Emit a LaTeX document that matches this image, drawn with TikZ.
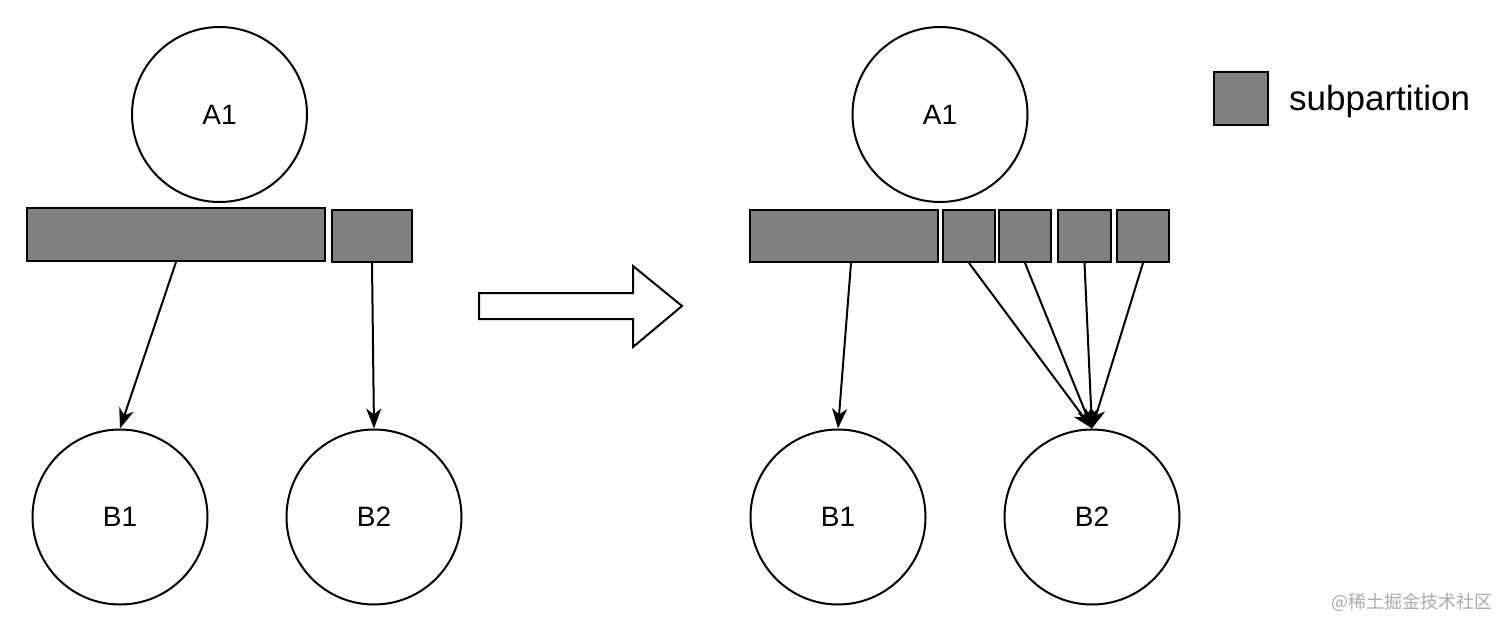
\documentclass[tikz,border=0pt]{standalone}
\usepackage{fontspec}
\setmainfont{Liberation Sans}
\newfontfamily\cjkfont{Noto Sans CJK SC}
\usetikzlibrary{arrows.meta}
\definecolor{partgray}{HTML}{808080}
\definecolor{wmgray}{HTML}{AAAAAA}
\tikzset{
  ball/.style={circle,draw,line width=2pt,minimum size=175pt,inner sep=0pt,font=\fontsize{28}{30}\selectfont},
  part/.style={rectangle,draw,line width=2pt,fill=partgray,inner sep=0pt},
  link/.style={line width=2pt,-{Stealth[length=20pt,width=15pt,inset=6pt]}},
  bigarrow/.style={draw,line width=2pt,fill=white,line join=miter}
}
\begin{document}
\begin{tikzpicture}[x=1pt,y=-1pt]
\useasboundingbox (0,0) rectangle (1512,631);
% left side
\node[ball] (lA1) at (219.5,114.5) {A1};
\node[ball] (lB1) at (120,517) {B1};
\node[ball] (lB2) at (374,517) {B2};
\node[part,minimum width=298pt,minimum height=53pt] (lbar) at (176,234.5) {};
\node[part,minimum width=80pt,minimum height=52pt] (lbox) at (372,236) {};
\draw[link] (lbar.south) -- (lB1.north);
\draw[link] (lbox.south) -- (lB2.north);
% transition arrow
\draw[bigarrow] (479,293) -- (633,293) -- (633,266) -- (682,306) -- (633,347) -- (633,319) -- (479,319) -- cycle;
% right side
\node[ball] (rA1) at (940,114.5) {A1};
\node[ball] (rB1) at (838,517) {B1};
\node[ball] (rB2) at (1092,517) {B2};
\node[part,minimum width=188pt,minimum height=52pt] (rbar) at (844,236) {};
\node[part,minimum width=52pt,minimum height=52pt] (rs1) at (969,236) {};
\node[part,minimum width=52pt,minimum height=52pt] (rs2) at (1025,236) {};
\node[part,minimum width=53pt,minimum height=52pt] (rs3) at (1084.5,236) {};
\node[part,minimum width=52pt,minimum height=52pt] (rs4) at (1143,236) {};
\draw[link] ([xshift=7pt]rbar.south) -- (rB1.north);
\draw[link] (rs1.south) -- (rB2.north);
\draw[link] (rs2.south) -- (rB2.north);
\draw[link] (rs3.south) -- (rB2.north);
\draw[link] (rs4.south) -- (rB2.north);
% legend
\node[part,minimum width=54pt,minimum height=53pt] (legbox) at (1241,98.5) {};
\node[anchor=west,inner sep=0pt,font=\fontsize{35}{38}\selectfont] (legtext) at (1289,101) {subpartition};
% watermark
\node[anchor=east,inner sep=0pt,text=wmgray,font=\cjkfont\fontsize{18}{20}\selectfont] (wm) at (1493,602) {@稀土掘金技术社区};
\end{tikzpicture}
\end{document}
